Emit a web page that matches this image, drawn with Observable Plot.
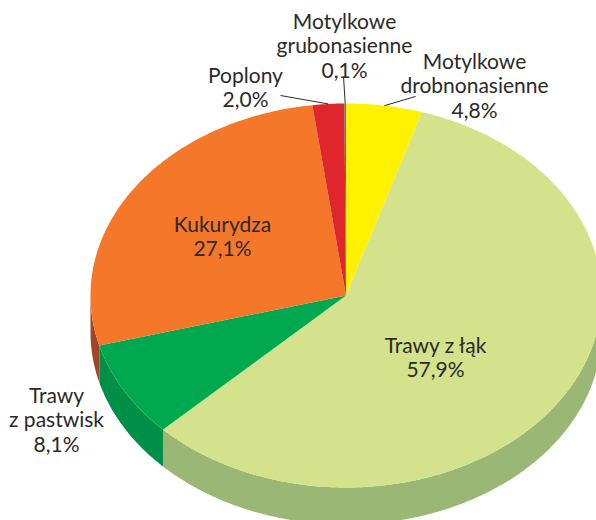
<!DOCTYPE html>
<html><head><meta charset="utf-8">
<style>html,body{margin:0;padding:0;background:#fff}svg{display:block}</style>
<script src="https://cdn.jsdelivr.net/npm/d3@7"></script>
<script src="https://cdn.jsdelivr.net/npm/@observablehq/plot@0.6"></script>
</head><body><div id="chart"></div>
<script>
const categories = ["Motylkowe drobnonasienne","Trawy z łąk","Trawy z pastwisk","Kukurydza","Poplony","Motylkowe grubonasienne"];
const shares = [4.8,57.9,8.1,27.1,2.0,0.1];
const labels = ["Motylkowe\ndrobnonasienne\n4,8%","Trawy z łąk\n57,9%","Trawy\nz pastwisk\n8,1%","Kukurydza\n27,1%","Poplony\n2,0%","Motylkowe\ngrubonasienne\n0,1%"];
const topColors = ["#fff200","#d3e28b","#00a94f","#f5772a","#df262c","#5a6fa5"];
const sideColors = ["#c9bf00","#9bb776","#008f47","#a2462a","#96201f","#3f4f78"];

// layout (page pixels)
const W = 596, H = 520, CX = 345.5, CY = 295, RX = 255.5, RY = 192, DEPTH = 37;
const labelPx = [[474,85],[435,357],[56,419],[222,236],[245,87],[344,45]];
const leaderPx = [[415,96],null,null,null,[280,95],[343,76]];
const toX = px => (px - CX) / RX, toY = py => (CY - py) / RY;
const total = d3.sum(shares);
const ang = v => v / total * 2 * Math.PI;
const pt = (t, drop = 0) => [Math.sin(t), Math.cos(t) - drop];
const arc = (a, b, drop = 0) => {
  const n = Math.max(2, Math.ceil((b - a) / 0.01));
  return d3.range(n + 1).map(i => pt(a + (b - a) * i / n, drop));
};

let acc = 0;
const slices = shares.map((v, i) => {
  const a = ang(acc), b = ang(acc + v);
  acc += v;
  return {i, a, b, mid: (a + b) / 2};
});
const drop = DEPTH / RY;
const topPts = [], sidePts = [], leaders = [];
for (const s of slices) {
  for (const p of [[0, 0], ...arc(s.a, s.b)]) topPts.push({x: p[0], y: p[1], key: categories[s.i], color: topColors[s.i]});
  const a = Math.max(s.a, Math.PI / 2), b = Math.min(s.b, 3 * Math.PI / 2);
  if (b > a) {
    for (const p of [...arc(a, b), ...arc(a, b, drop).reverse()]) sidePts.push({x: p[0], y: p[1], key: categories[s.i], color: sideColors[s.i]});
  }
  if (leaderPx[s.i]) {
    const m = pt(s.mid);
    leaders.push({x1: toX(leaderPx[s.i][0]), y1: toY(leaderPx[s.i][1]), x2: m[0], y2: m[1]});
  }
}
const textRows = labels.map((t, i) => ({t, x: toX(labelPx[i][0]), y: toY(labelPx[i][1])}));

const chart = Plot.plot({
  width: W, height: H, margin: 0,
  x: {domain: [toX(0), toX(W)], range: [0, W], axis: null},
  y: {domain: [toY(H), toY(0)], range: [H, 0], axis: null},
  color: {type: "identity"},
  marks: [
    Plot.line(sidePts, {x: "x", y: "y", z: "key", fill: "color", stroke: "none", curve: "linear-closed"}),
    Plot.line(topPts, {x: "x", y: "y", z: "key", fill: "color", stroke: "none", curve: "linear-closed"}),
    Plot.link(leaders, {x1: "x1", y1: "y1", x2: "x2", y2: "y2", stroke: "#2b2a29", strokeWidth: 1}),
    Plot.text(textRows, {x: "x", y: "y", text: "t", fontSize: 21, lineHeight: 1.16, fill: "#2b2a29", textAnchor: "middle", lineAnchor: "middle", fontFamily: "Lato, sans-serif"})
  ],
  style: {background: "#fff", overflow: "hidden"}
});
document.getElementById("chart").appendChild(chart);
</script></body></html>
